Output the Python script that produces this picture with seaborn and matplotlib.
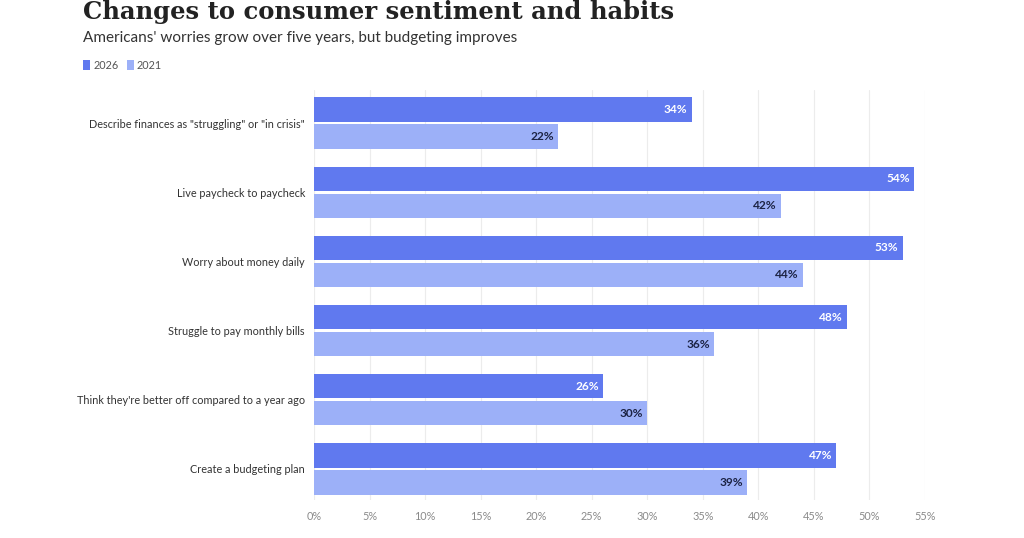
import matplotlib
matplotlib.use("Agg")
import matplotlib.pyplot as plt
import seaborn as sns
import pandas as pd
from matplotlib.patches import Patch

categories = [
    'Describe finances as "struggling" or "in crisis"',
    "Live paycheck to paycheck",
    "Worry about money daily",
    "Struggle to pay monthly bills",
    "Think they're better off compared to a year ago",
    "Create a budgeting plan",
]
values_2026 = [34, 54, 53, 48, 26, 47]
values_2021 = [22, 42, 44, 36, 30, 39]
series = ["2026", "2021"]
colors = {"2026": "#6079ef", "2021": "#9cb0f8"}
xticks = [0, 5, 10, 15, 20, 25, 30, 35, 40, 45, 50, 55]

df = pd.DataFrame({
    "category": categories * 2,
    "value": values_2026 + values_2021,
    "year": ["2026"] * len(categories) + ["2021"] * len(categories),
})

sns.set_theme(style="white")
plt.rcParams["font.family"] = ["Lato", "DejaVu Sans"]

fig = plt.figure(figsize=(10.24, 5.38), dpi=100)
ax = fig.add_axes([0.3066, 0.0706, 0.5967, 0.7624])

sns.barplot(data=df, y="category", x="value", hue="year", hue_order=series,
            palette=colors, orient="h", width=0.78, gap=0.1, ax=ax,
            legend=False, saturation=1, linewidth=0)

for cont, s in zip(ax.containers, series):
    col = "white" if s == "2026" else "#1c2344"
    for patch, v in zip(cont.patches, cont.datavalues):
        ax.annotate(f"{v:.0f}%",
                    xy=(patch.get_x() + patch.get_width(),
                        patch.get_y() + patch.get_height() / 2),
                    xytext=(-3, 0), textcoords="offset points",
                    ha="right", va="center", fontsize=8.6,
                    fontweight="bold", color=col)

ax.set_xlim(0, 55)
ax.set_ylim(5.45, -0.48)
ax.set_xticks(xticks)
ax.set_xticklabels([f"{t}%" for t in xticks], color="#8a8a8a", fontsize=7.8)
ax.tick_params(axis="x", length=0, pad=8)
ax.tick_params(axis="y", length=0, pad=6.5, labelsize=7.8, labelcolor="#333333")
ax.set_xlabel("")
ax.set_ylabel("")
ax.grid(axis="x", color="#ececec", linewidth=0.8)
ax.set_axisbelow(True)
for sp in ax.spines.values():
    sp.set_visible(False)

fig.text(0.081, 0.9655, "Changes to consumer sentiment and habits",
         family="DejaVu Serif", fontweight="bold", fontsize=17.5,
         color="#222222", va="baseline")
fig.text(0.081, 0.922, "Americans' worries grow over five years, but budgeting improves",
         fontsize=11, color="#333333", va="baseline")

handles = [Patch(facecolor=colors[s], edgecolor="none") for s in series]
fig.legend(handles, series, loc="center left", bbox_to_anchor=(0.072, 0.879),
           ncol=2, frameon=False, fontsize=7.8, handlelength=0.6,
           handleheight=1.1, handletextpad=0.3, columnspacing=0.8,
           labelcolor="#555555")

fig.savefig("out.png", dpi=100, facecolor="white")
